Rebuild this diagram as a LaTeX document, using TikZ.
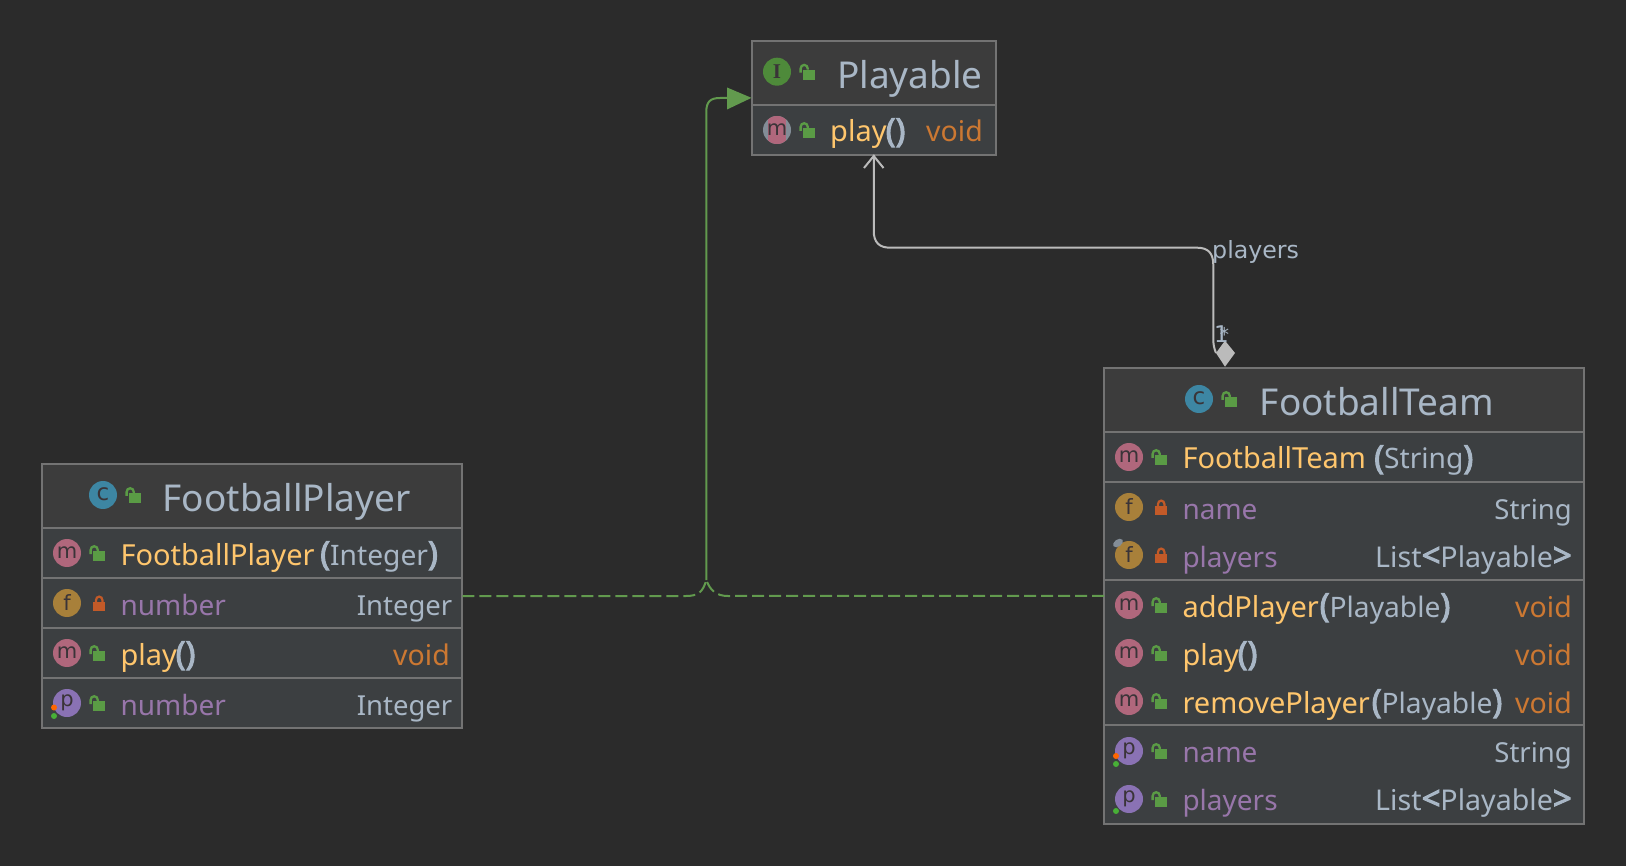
\documentclass[tikz,border=0pt]{standalone}
\usepackage{fontspec}
\setmainfont{Noto Sans}[BoldFont={Noto Sans},BoldFeatures={FakeBold=3}]
\newfontfamily\djv{DejaVu Sans}
\newfontfamily\mono{DejaVu Sans}
\newfontfamily\srf{Liberation Serif}
\usetikzlibrary{arrows.meta,calc}
\definecolor{bgc}{HTML}{2B2B2B}
\definecolor{titlec}{HTML}{3C3C3C}
\definecolor{rowc}{HTML}{3C3F41}
\definecolor{linec}{HTML}{737373}
\definecolor{txt}{HTML}{A9B7C6}
\definecolor{meth}{HTML}{FFC66D}
\definecolor{fld}{HTML}{9876AA}
\definecolor{kw}{HTML}{CC7832}
\definecolor{icm}{HTML}{B0677C}
\definecolor{icf}{HTML}{A8803A}
\definecolor{icp}{HTML}{8A72B4}
\definecolor{icc}{HTML}{3D86A3}
\definecolor{ici}{HTML}{4E8A3A}
\definecolor{icl}{HTML}{3A3438}
\definecolor{lockg}{HTML}{5A9B45}
\definecolor{lockr}{HTML}{C35A28}
\definecolor{dep}{HTML}{629A4E}
\definecolor{asc}{HTML}{BBBBBB}
\newcommand{\bp}[1]{{\bfseries\fontsize{33}{33}\selectfont #1}}
\tikzset{
  x=1pt,y=-1pt,
  umlbox/.style={draw=linec,line width=2pt,fill=rowc,inner sep=0pt,outer sep=0pt},
  sep/.style={draw=linec,line width=2pt},
  tt/.style={anchor=base west,inner sep=0pt,font=\fontsize{37}{37}\selectfont,text=txt},
  mm/.style={anchor=base west,inner sep=0pt,font=\fontsize{29}{29}\selectfont,text=meth},
  ff/.style={anchor=base west,inner sep=0pt,font=\fontsize{28}{28}\selectfont,text=fld},
  pp/.style={anchor=base west,inner sep=0pt,font=\fontsize{28.2}{28}\selectfont,text=txt},
  ty/.style={anchor=base east,inner sep=0pt,font=\fontsize{27.5}{28}\selectfont,text=txt},
  tyl/.style={ty,font=\fontsize{28.6}{29}\selectfont},
  vv/.style={ty,font=\fontsize{28.5}{29}\selectfont,text=kw},
  ic/.style={anchor=center,inner sep=0pt,text=icl,font=\mono\fontsize{21}{21}\selectfont},
  icbig/.style={ic,font=\mono\fontsize{23}{23}\selectfont},
  depline/.style={draw=dep,line width=2pt,dash pattern=on 12pt off 5pt},
  ascline/.style={draw=asc,line width=2pt},
  small/.style={anchor=base west,inner sep=0pt,text=txt,font=\djv\fontsize{23.7}{24}\selectfont},
  tinyone/.style={anchor=base west,inner sep=0pt,text=txt,font=\djv\fontsize{23}{23}\selectfont},
  tinystar/.style={anchor=base west,inner sep=0pt,text=txt,font=\djv\fontsize{19}{19}\selectfont},
}
\newcommand{\openlock}[2]{%
  \fill[lockg] (#1+26.3,#2-2) rectangle (#1+38,#2+8);
  \draw[lockg,line width=2.3pt] (#1+23.6,#2+1) -- (#1+23.6,#2-3) arc[start angle=180,end angle=0,x radius=3.6,y radius=-3.8] -- (#1+30.8,#2-2);
}
\newcommand{\shutlock}[2]{%
  \fill[lockr] (#1+26.3,#2-1) rectangle (#1+38,#2+8);
  \draw[lockr,line width=2.2pt] (#1+29,#2-1) -- (#1+29,#2-3) arc[start angle=180,end angle=0,x radius=3.2,y radius=-3.4] -- (#1+35.4,#2-1);
}
\newcommand{\roundicon}[3]{\fill[#1] (#2,#3) circle[radius=14];}
\begin{document}
\begin{tikzpicture}
\useasboundingbox (0,0) rectangle (1626,866);
\fill[bgc] (0,0) rectangle (1626,866);

% boxes
\node[umlbox,minimum width=244.5pt,minimum height=114.3pt] (playable) at (873.75,97.85) {};
\node[umlbox,minimum width=420.6pt,minimum height=264pt] (player) at (252,596) {};
\node[umlbox,minimum width=480pt,minimum height=456.3pt] (team) at (1344,595.85) {};

% title fills
\fill[titlec] (752.5,41.7) rectangle (995,105);
\fill[titlec] (42.7,465) rectangle (461.3,528);
\fill[titlec] (1105,368.7) rectangle (1583,432);

% separators
\draw[sep] (752,105) -- (995.5,105);
\draw[sep] (42,528) -- (462,528);
\draw[sep] (42,578) -- (462,578);
\draw[sep] (42,628) -- (462,628);
\draw[sep] (42,678) -- (462,678);
\draw[sep] (1104,431.7) -- (1584,431.7);
\draw[sep] (1104,482) -- (1584,482);
\draw[sep] (1104,580) -- (1584,580);
\draw[sep] (1104,725.3) -- (1584,725.3);

% connectors
\coordinate (join) at (706.3,580);
\draw[depline] (player.east) -- (686,596) .. controls (698,596) and (703,592) .. (join);
\draw[depline] (team.west) -- (728,596) .. controls (716,596) and (710,590) .. (join);
\draw[dep,line width=2pt] (join) -- (706.3,112) .. controls (706.3,102) and (710,98) .. (720,98) -- (730,98);
\fill[dep] (playable.west) -- (727,87.5) -- (727,109.5) -- cycle;

\coordinate (tip) at (1225,366.7);
\draw[ascline] (1216,353) .. controls (1214,348) and (1213.3,345) .. (1213.3,338) -- (1213.3,265) .. controls (1213.3,253) and (1208,247.7) .. (1197,247.7) -- (890,247.7) .. controls (879,247.7) and (873.75,242) .. (873.75,231) -- (playable.south);
\draw[ascline] (864,168) -- (873.75,156) -- (883.5,168);
\fill[asc] (tip) -- (1235,353) -- (1225,340.7) -- (1216,353) -- cycle;

% connector labels
\node[small] (lblplayers) at (1212,258.5) {players};
\node[tinyone] (lblone) at (1214,343) {1};
\node[tinystar] (lblstar) at (1219.5,342) {*};

% ---- Playable
\roundicon{ici}{777}{71.7}
\node[ic,font=\srf\bfseries\fontsize{21}{21}\selectfont] (pi) at (777,71.7) {I};
\openlock{777}{71.7}
\node[tt] (pt) at (837,89) {Playable};
\begin{scope}
  \fill[txt!70!bgc] (777,130) circle[radius=14];
  \clip (777,130) circle[radius=14];
  \fill[icm] (768,110) rectangle (786,150);
\end{scope}
\node[ic] (pm) at (777,130) {m};
\openlock{777}{130}
\node[mm] (pplay) at (830,142) {play};
\node[pp] (pparen) at (885.5,142) {\bp{()}};
\node[vv] (pvoid) at (983,142) {void};

% ---- FootballPlayer
\roundicon{icc}{103}{495}
\node[icbig] (fc) at (103,494) {c};
\openlock{103}{495}
\node[tt] (ft) at (162.5,511.5) {FootballPlayer};
\roundicon{icm}{67}{553}
\node[ic] (fm1) at (67,553) {m};
\openlock{67}{553}
\node[mm] (fctor) at (120.3,565) {FootballPlayer};
\node[pp] (fctorarg) at (320,565) {\bp{(}Integer\bp{)}};
\roundicon{icf}{67}{603}
\node[ic] (ff1) at (67,603) {f};
\shutlock{67}{603}
\node[ff] (fnum) at (120.3,615) {number};
\node[ty] (fnumt) at (452.5,615) {Integer};
\roundicon{icm}{67}{653}
\node[ic] (fm2) at (67,653) {m};
\openlock{67}{653}
\node[mm] (fplay) at (120.3,665) {play};
\node[pp] (fparen) at (175.5,665) {\bp{()}};
\node[vv] (fvoid) at (450,665) {void};
\roundicon{icp}{67}{703}
\node[ic] (fp) at (67,703) {p};
\fill[orange!80!red] (54,707.5) circle[radius=3];
\fill[lockg!80!green] (54,716) circle[radius=3];
\openlock{67}{703}
\node[ff] (fpn) at (120.3,715) {number};
\node[ty] (fpt) at (452.5,715) {Integer};

% ---- FootballTeam
\roundicon{icc}{1199}{399}
\node[icbig] (tc) at (1199,398) {c};
\openlock{1199}{399}
\node[tt] (tt) at (1259.7,416) {FootballTeam};
\roundicon{icm}{1129}{457}
\node[ic] (tm1) at (1129,457) {m};
\openlock{1129}{457}
\node[mm] (tctor) at (1182.3,469) {FootballTeam};
\node[pp] (tctorarg) at (1374,469) {\bp{(}String\bp{)}};
\roundicon{icf}{1129}{507}
\node[ic] (tf1) at (1129,507) {f};
\shutlock{1129}{507}
\node[ff] (tname) at (1182.3,519) {name};
\node[ty] (tnamet) at (1572,519) {String};
\roundicon{icf}{1129}{555}
\node[ic] (tf2) at (1129,555) {f};
\fill[txt!70!bgc,rotate around={35:(1118,543)}] (1118,543) ellipse[x radius=5.5,y radius=3.5];
\shutlock{1129}{555}
\node[ff] (tplayers) at (1182.3,567) {players};
\node[tyl] (tplayerst) at (1572,567) {List\bp{<}Playable\bp{>}};
\roundicon{icm}{1129}{605}
\node[ic] (tm2) at (1129,605) {m};
\openlock{1129}{605}
\node[mm] (tadd) at (1182.3,617) {addPlayer};
\node[pp] (taddarg) at (1319.5,617) {\bp{(}Playable\bp{)}};
\node[vv] (taddv) at (1572,617) {void};
\roundicon{icm}{1129}{653}
\node[ic] (tm3) at (1129,653) {m};
\openlock{1129}{653}
\node[mm] (tplay) at (1182.3,665) {play};
\node[pp] (tparen) at (1237.5,665) {\bp{()}};
\node[vv] (tplayv) at (1572,665) {void};
\roundicon{icm}{1129}{701}
\node[ic] (tm4) at (1129,701) {m};
\openlock{1129}{701}
\node[mm] (trem) at (1182.3,713) {removePlayer};
\node[pp] (tremarg) at (1371.5,713) {\bp{(}Playable\bp{)}};
\node[vv] (tremv) at (1572,713) {void};
\roundicon{icp}{1129}{751}
\node[ic] (tp1) at (1129,751) {p};
\fill[orange!80!red] (1116,756) circle[radius=3];
\fill[lockg!80!green] (1116,764) circle[radius=3];
\openlock{1129}{751}
\node[ff] (tpn) at (1182.3,762.5) {name};
\node[ty] (tpnt) at (1572,762.5) {String};
\roundicon{icp}{1129}{799}
\node[ic] (tp2) at (1129,799) {p};
\fill[lockg!80!green] (1116,811) circle[radius=3];
\openlock{1129}{799}
\node[ff] (tpp) at (1182.3,810) {players};
\node[tyl] (tppt) at (1572,810) {List\bp{<}Playable\bp{>}};
\end{tikzpicture}
\end{document}
